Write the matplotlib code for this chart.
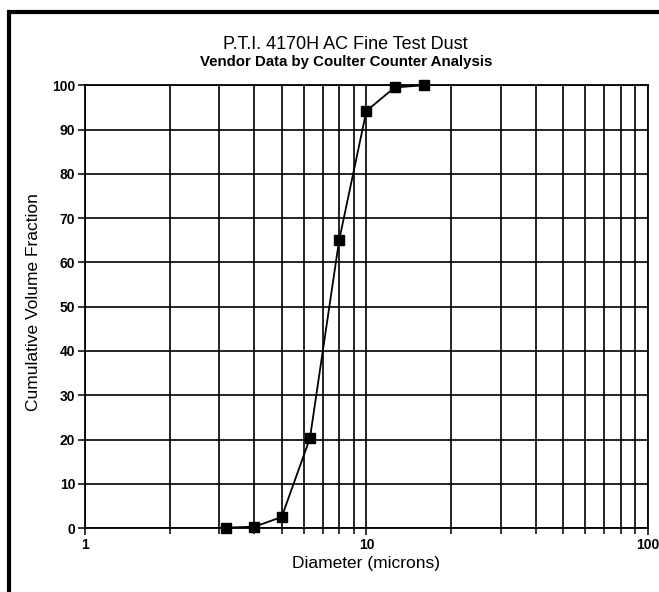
import matplotlib.pyplot as plt
from matplotlib.patches import Rectangle
from matplotlib.ticker import FixedLocator, LogLocator, NullFormatter

# particle size distribution
DIAMETER = [3.16, 4.0, 5.0, 6.3, 8.0, 10.0, 12.6, 16.0]
CUM_VOLUME = [0.1, 0.3, 2.5, 20.3, 65.0, 94.2, 99.5, 100.0]

TITLE = "P.T.I. 4170H AC Fine Test Dust"
SUBTITLE = "Vendor Data by Coulter Counter Analysis"
Y_TICKS = list(range(0, 101, 10))
X_TICKS = [1, 10, 100]

plt.rcParams["font.family"] = ["Liberation Sans", "DejaVu Sans"]

fig = plt.figure(figsize=(6.59, 5.92), dpi=100)
ax = fig.add_axes([0.129, 0.108, 0.854, 0.748])

ax.plot(DIAMETER, CUM_VOLUME, color="black", linewidth=1.3,
        marker="s", markersize=7, markerfacecolor="black", zorder=5, clip_on=False)

ax.set_xscale("log")
ax.set_xlim(1, 100)
ax.set_ylim(0, 100)
ax.xaxis.set_major_locator(FixedLocator(X_TICKS))
ax.xaxis.set_minor_locator(LogLocator(base=10, subs=range(2, 10)))
ax.xaxis.set_minor_formatter(NullFormatter())
ax.set_xticklabels([str(t) for t in X_TICKS])
ax.set_yticks(Y_TICKS)

ax.grid(True, which="both", color="black", linewidth=1.2)
for s in ax.spines.values():
    s.set_linewidth(1.3)
ax.tick_params(axis="both", which="major", direction="out", length=5, width=1.1,
               labelsize=10, pad=2)
ax.tick_params(axis="x", which="minor", direction="out", length=4, width=1.1)
for lab in ax.get_xticklabels() + ax.get_yticklabels():
    lab.set_fontweight("bold")

ax.set_xlabel("Diameter (microns)", fontsize=12.5)
ax.set_ylabel("Cumulative Volume Fraction", fontsize=12.5)
ax.xaxis.set_label_coords(0.5, -0.08)
ax.xaxis.label.set_va("center")
ax.yaxis.set_label_coords(-0.092, 0.51)
ax.yaxis.label.set_va("center")

fig.text(0.524, 0.924, TITLE, ha="center", va="center", fontsize=13)
fig.text(0.526, 0.895, SUBTITLE, ha="center", va="center", fontsize=10.8, fontweight="bold")

# scanned page frame (left and top edges visible)
fig.patches.append(Rectangle((0.013, -0.1), 1.2, 1.08, transform=fig.transFigure,
                             fill=False, edgecolor="black", linewidth=3))

fig.savefig("out.png", dpi=100)
